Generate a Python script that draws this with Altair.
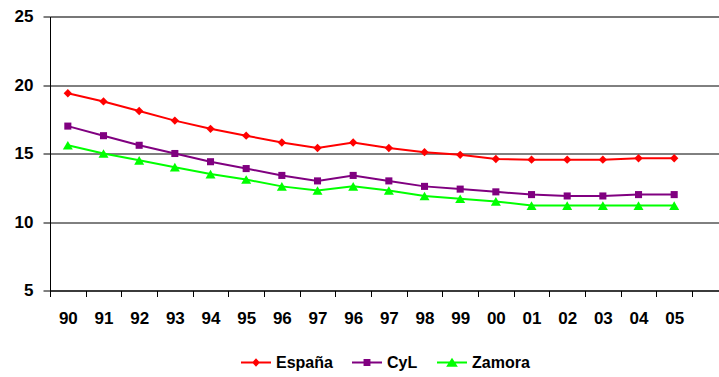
import altair as alt
import pandas as pd

# Year labels along the x axis (96/97 appear twice in the series)
labels = ["90", "91", "92", "93", "94", "95", "96", "97", "96", "97",
          "98", "99", "00", "01", "02", "03", "04", "05"]

espana = [19.4, 18.8, 18.1, 17.4, 16.8, 16.3, 15.8, 15.4, 15.8, 15.4,
          15.1, 14.9, 14.6, 14.55, 14.55, 14.55, 14.65, 14.65]
cyl = [17.0, 16.3, 15.6, 15.0, 14.4, 13.9, 13.4, 13.0, 13.4, 13.0,
       12.6, 12.4, 12.2, 12.0, 11.9, 11.9, 12.0, 12.0]
zamora = [15.6, 15.0, 14.5, 14.0, 13.5, 13.1, 12.6, 12.3, 12.6, 12.3,
          11.9, 11.7, 11.5, 11.2, 11.2, 11.2, 11.2, 11.2]

series_names = ["España", "CyL", "Zamora"]
series_colors = ["#FF0000", "#800080", "#00FF00"]
series_shapes = ["diamond", "square", "triangle-up"]
series_sizes = [70, 50, 100]

# Legend symbols: a short line with the series marker in the middle
legend_paths = [
    "M-1,-0.067L1,-0.067L1,0.067L-1,0.067Z M0,-0.28L0.26,0L0,0.28L-0.26,0Z",
    "M-1,-0.067L1,-0.067L1,0.067L-1,0.067Z M-0.23,-0.23L0.23,-0.23L0.23,0.23L-0.23,0.23Z",
    "M-1,-0.067L1,-0.067L1,0.067L-1,0.067Z M0,-0.32L0.39,0.28L-0.39,0.28Z",
]

rows = []
for name, vals in zip(series_names, [espana, cyl, zamora]):
    for i, v in enumerate(vals):
        rows.append({"idx": i, "serie": name, "valor": v})
df = pd.DataFrame(rows)

n = len(labels)
slots = list(range(n + 1))  # one trailing empty slot on the right
label_js = "[" + ",".join("'" + s + "'" for s in labels) + "]"

FONT = "Liberation Sans"

x_enc = alt.X(
    "idx:O",
    scale=alt.Scale(type="band", domain=slots, range=[0, 677.7],
                    paddingInner=0, paddingOuter=0),
    axis=alt.Axis(
        title=None, labelAngle=0, grid=False, tickBand="extent",
        labelExpr=label_js + "[datum.value] || ''",
        labelFont=FONT, labelFontWeight="bold", labelFontSize=17,
        labelColor="#000000", labelPadding=14,
        domainColor="#000000", domainWidth=1,
        tickColor="#000000", tickSize=6, tickWidth=1,
    ),
)
y_enc = alt.Y(
    "valor:Q",
    scale=alt.Scale(domain=[5, 25], nice=False, zero=False),
    axis=alt.Axis(
        title=None, values=[5, 10, 15, 20, 25], grid=True,
        gridColor="#000000", gridWidth=1, gridOpacity=1,
        labelFont=FONT, labelFontWeight="bold", labelFontSize=17,
        labelColor="#000000", labelPadding=10,
        domainColor="#000000", domainWidth=1,
        tickColor="#000000", tickSize=7, tickWidth=1,
    ),
)
color_scale = alt.Scale(domain=series_names, range=series_colors)

legend_def = alt.Legend(
    title=None, orient="none", direction="horizontal",
    legendX=191, legendY=331,
    labelFont=FONT, labelFontWeight="bold", labelFontSize=16,
    labelColor="#000000", labelOffset=5, columnPadding=19,
    symbolSize=900, symbolStrokeWidth=0, symbolOpacity=1,
)
# Empty layer that only carries the legend (listed first so its legend wins)
legend_layer = alt.Chart(df).transform_filter("false").mark_point(
    filled=True, opacity=1
).encode(
    x=x_enc, y=y_enc,
    color=alt.Color("serie:N", scale=color_scale, legend=legend_def),
    shape=alt.Shape("serie:N",
                    scale=alt.Scale(domain=series_names, range=legend_paths),
                    legend=legend_def),
)

lines = alt.Chart(df).mark_line(strokeWidth=2).encode(
    x=x_enc, y=y_enc,
    color=alt.Color("serie:N", scale=color_scale, legend=None),
    detail="serie:N",
)

layers = [legend_layer, lines]
for name, shp, sz in zip(series_names, series_shapes, series_sizes):
    layers.append(
        alt.Chart(df).transform_filter(alt.datum.serie == name)
        .mark_point(shape=shp, filled=True, size=sz, opacity=1, strokeWidth=0)
        .encode(x=x_enc, y=y_enc,
                color=alt.Color("serie:N", scale=color_scale, legend=None))
    )

chart = alt.layer(*layers).properties(
    width=669, height=274,
    autosize=alt.AutoSizeParams(type="none"),
    padding={"left": 50, "top": 16.5, "right": 0, "bottom": 86.5},
).configure_view(stroke=None).configure(background="#FFFFFF")

chart.save("out.html", embed_options={"renderer": "svg", "actions": False})
